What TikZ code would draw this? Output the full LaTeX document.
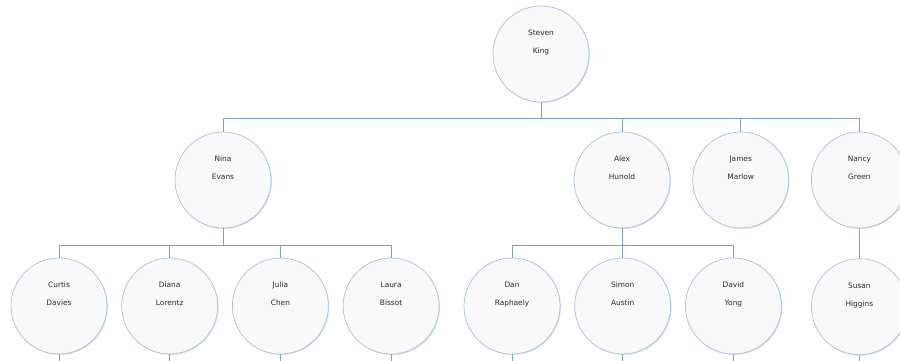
\documentclass[tikz,border=0pt]{standalone}
\usepackage{fontspec}
\setmainfont{DejaVu Sans}
\usetikzlibrary{positioning,shadows}

\definecolor{linkblue}{RGB}{122,162,206}
\definecolor{rimblue}{RGB}{168,194,224}
\definecolor{bubblefill}{RGB}{249,249,249}
\definecolor{nametext}{RGB}{40,40,40}

\begin{document}
\begin{tikzpicture}[x=1pt,y=-1pt,
			node distance=14pt,
			person/.style={
				circle,
				draw=rimblue,
				fill=bubblefill,
				line width=0.7pt,
				minimum size=96pt,
				inner sep=0pt,
				drop shadow={shadow xshift=0.9pt,shadow yshift=-0.9pt,
					fill=rimblue!80!gray,opacity=0.45},
				label={[namelabel]center:#1}},
			namelabel/.style={
				align=center,
				yshift=11pt,
				text depth=2pt,
				text=nametext,
				font=\fontsize{7.4pt}{18pt}\selectfont},
			link/.style={draw=linkblue,line width=0.8pt}]
			
			\useasboundingbox (0,0) rectangle (900,360);
			
			\node[person={Steven\\King}] (king) at (541,54) {};
			
			\node[person={Nina\\Evans}] (nina) at (223,180) {};
			
			\node[person={Alex\\Hunold}] (alex) at (622,180) {};
			
			\node[person={James\\Marlow}] (james)[right=22pt of alex] {};
			
			\node[person={Nancy\\Green}] (nancy)[right=22pt of james] {};
			
			\node[person={Curtis\\Davies}] (curtis) at (59,306) {};
			
			\node[person={Diana\\Lorentz}] (diana)[right=of curtis] {};
			
			\node[person={Julia\\Chen}] (julia)[right=of diana] {};
			
			\node[person={Laura\\Bissot}] (laura)[right=of julia] {};
			
			\node[person={Dan\\Raphaely}] (dan) at (512,306) {};
			
			\node[person={Simon\\Austin}] (simon)[right=of dan] {};
			
			\node[person={David\\Yong}] (david)[right=of simon] {};
			
			\node[person={Susan\\Higgins}] (susan)[below=30pt of nancy] {};
			
			\foreach \c in {nina,alex,james,nancy}
				\draw[link](king.south)--++(0,16)-|(\c.north);
			
			\foreach \c in {curtis,diana,julia,laura}
				\draw[link](nina.south)--++(0,17)-|(\c.north);
			
			\foreach \c in {dan,simon,david}
				\draw[link](alex.south)--++(0,17)-|(\c.north);
			
			\draw[link](nancy)--(susan);
			
			% stubs running off the page
			\foreach \c in {curtis,diana,julia,laura,dan,simon,david,susan}
				\draw[link](\c.south)--++(0,10);
			
		\end{tikzpicture}
\end{document}
